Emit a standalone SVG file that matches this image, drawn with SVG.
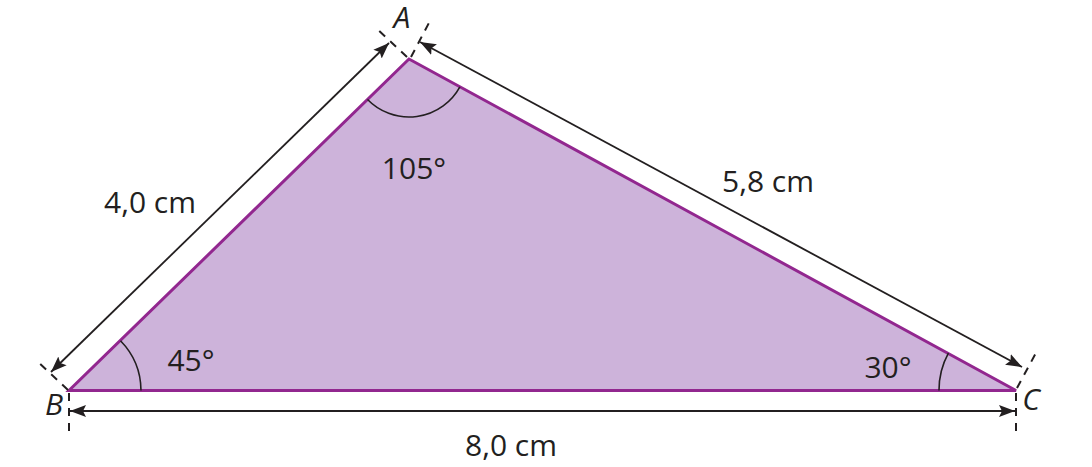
<svg xmlns="http://www.w3.org/2000/svg" width="1092" height="467" viewBox="0 0 1092 467">
<defs>
<style>
.tri{fill:#cdb3da;stroke:#92278f;stroke-width:3;stroke-linejoin:miter}
.dim{stroke:#231f20;stroke-width:1.8;fill:none}
.ext{stroke:#231f20;stroke-width:2;stroke-dasharray:8 7;fill:none}
.arc{stroke:#231f20;stroke-width:1.6;fill:none}
.lbl{font-family:"Open Sans","Liberation Sans",sans-serif;font-size:30px;fill:#231f20;text-anchor:middle}
.vtx{font-family:"Open Sans","Liberation Sans",sans-serif;font-size:30px;font-style:italic;fill:#231f20;text-anchor:middle}
</style>
<marker id="arr" markerUnits="userSpaceOnUse" markerWidth="18" markerHeight="14" refX="16" refY="6" orient="auto-start-reverse" viewBox="0 0 18 12">
<path d="M0,0 L16,6 L0,12 L3,6 z" fill="#231f20"/>
</marker>
</defs>
<g id="triangle">
<polygon class="tri" points="409,59 69,390.5 1016,390.5"/>
</g>
<g id="angles">
<path class="arc" d="M367.5,99.5 A58,58 0 0 0 459.9,86.8"/>
<path class="arc" d="M120.5,340.7 A72,72 0 0 1 141,390.5"/>
<path class="arc" d="M948.4,353.1 A77,77 0 0 0 939,390.5"/>
</g>
<g id="connectors">
<line class="ext" x1="68" y1="390" x2="37" y2="361"/>
<line class="ext" x1="407" y1="57" x2="375" y2="27"/>
<line class="ext" x1="411" y1="57" x2="431" y2="19"/>
<line class="ext" x1="1017" y1="388" x2="1037" y2="351"/>
<line class="ext" x1="69" y1="393" x2="69" y2="433"/>
<line class="ext" x1="1016" y1="393" x2="1016" y2="433"/>
<line class="dim" x1="51" y1="372" x2="389" y2="43" marker-start="url(#arr)" marker-end="url(#arr)"/>
<line class="dim" x1="420" y1="42" x2="1022" y2="367" marker-start="url(#arr)" marker-end="url(#arr)"/>
<line class="dim" x1="70" y1="411" x2="1015" y2="411" marker-start="url(#arr)" marker-end="url(#arr)"/>
</g>
<g id="label-A"><text class="vtx" x="402" y="28">A</text></g>
<g id="label-B"><text class="vtx" x="54" y="415">B</text></g>
<g id="label-C"><text class="vtx" x="1031" y="410">C</text></g>
<g id="label-AB"><text class="lbl" x="150" y="213">4,0 cm</text></g>
<g id="label-AC"><text class="lbl" x="768" y="192">5,8 cm</text></g>
<g id="label-BC"><text class="lbl" x="511" y="456">8,0 cm</text></g>
<g id="angle-A"><text class="lbl" x="414" y="179">105°</text></g>
<g id="angle-B"><text class="lbl" x="191" y="371">45°</text></g>
<g id="angle-C"><text class="lbl" x="888" y="378">30°</text></g>
</svg>
